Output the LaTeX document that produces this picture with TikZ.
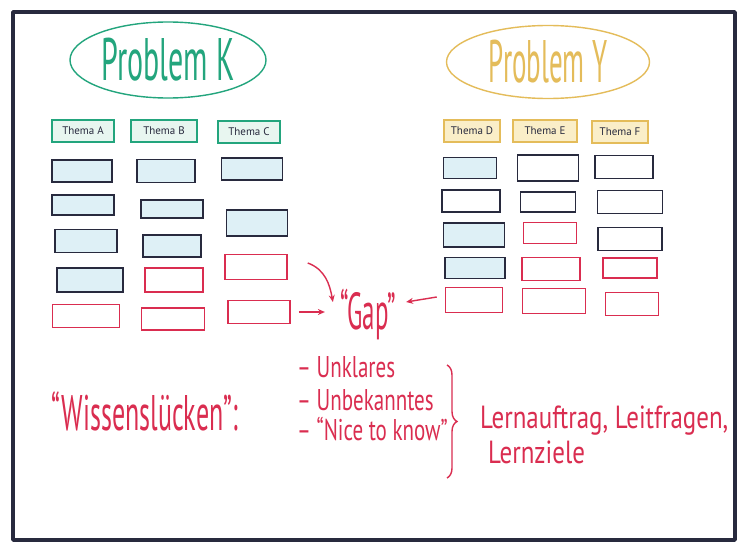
\documentclass[tikz,border=0pt]{standalone}
\usepackage{fontspec}
\setmainfont{PT Sans}
\usepackage{graphicx}
\usetikzlibrary{shapes.geometric,arrows.meta,decorations.pathreplacing}

\definecolor{kgreen}{RGB}{35,165,125}
\definecolor{ygold}{RGB}{228,188,90}
\definecolor{yfill}{RGB}{250,238,200}
\definecolor{kfill}{RGB}{232,246,240}
\definecolor{ink}{RGB}{40,42,62}
\definecolor{skyfill}{RGB}{222,240,246}
\definecolor{gapred}{RGB}{218,45,80}

\newcommand{\narrow}[2]{\scalebox{#1}[1]{#2}}

\tikzset{
  problem/.style={ellipse, draw, line width=1.4pt, inner sep=0pt},
  thema/.style={draw, line width=1.2pt, minimum height=22pt, inner sep=0pt,
    text=ink, font=\fontsize{11}{11}\selectfont},
  kthema/.style={thema, draw=kgreen, fill=kfill},
  ythema/.style={thema, draw=ygold, fill=yfill},
  card/.style={draw, line width=1.5pt, minimum height=22pt, inner sep=0pt},
  known/.style={card, draw=ink, fill=skyfill},
  knownw/.style={card, draw=ink, fill=white},
  open/.style={card, draw=gapred, fill=white},
  redtext/.style={text=gapred, inner sep=0pt},
  gaparrow/.style={-{Stealth[length=7pt,width=6pt]}, line width=1.4pt, gapred},
}

\begin{document}
\begin{tikzpicture}[x=1pt, y=-1pt]

  \useasboundingbox (0,0) rectangle (739,543);
  \fill[white] (0,0) rectangle (739,543);

  % whiteboard frame
  \draw[ink, line width=3.5pt, line join=round] (13,12) rectangle (735,540);

  % problems
  \node[problem, draw=kgreen, text=kgreen, minimum width=196pt, minimum height=76pt,
    font=\fontsize{60}{60}\selectfont] (probK) at (168,60) {\narrow{0.5}{Problem K}};
  \node[problem, draw=ygold, text=ygold, minimum width=203pt, minimum height=73pt,
    font=\fontsize{60}{60}\selectfont] (probY) at (548,62) {\narrow{0.45}{Problem Y}};

  % themes
  \node[kthema, minimum width=62pt] (thA) at (83,131) {Thema A};
  \node[kthema, minimum width=66pt] (thB) at (164,131) {Thema B};
  \node[kthema, minimum width=62pt] (thC) at (249,132) {Thema C};
  \node[ythema, minimum width=56pt] (thD) at (472,131) {Thema D};
  \node[ythema, minimum width=64pt] (thE) at (545,131) {Thema E};
  \node[ythema, minimum width=56pt] (thF) at (620,132) {Thema F};

  % cards, problem K
  \node[known, minimum width=60pt] (a1) at (82,171) {};
  \node[known, minimum width=62pt, minimum height=20pt] (a2) at (83,205) {};
  \node[known, minimum width=62pt, minimum height=23pt] (a3) at (86,241) {};
  \node[known, minimum width=66pt, minimum height=24pt] (a4) at (90,280) {};
  \node[open, minimum width=67pt, minimum height=23pt] (a5) at (86,316) {};
  \node[known, minimum width=58pt, minimum height=23pt] (b1) at (166,171) {};
  \node[known, minimum width=62pt, minimum height=18pt] (b2) at (172,209) {};
  \node[known, minimum width=58pt] (b3) at (172,246) {};
  \node[open, minimum width=58pt, minimum height=24pt] (b4) at (174,280) {};
  \node[open, minimum width=63pt] (b5) at (173,319) {};
  \node[known, minimum width=61pt] (c1) at (252,169) {};
  \node[known, minimum width=61pt, minimum height=26pt] (c2) at (257,223) {};
  \node[open, minimum width=62pt, minimum height=25pt] (c3) at (256,267) {};
  \node[open, minimum width=62pt, minimum height=23pt] (c4) at (259,312) {};

  % cards, problem Y
  \node[known, minimum width=53pt, minimum height=21pt] (d1) at (470,168) {};
  \node[knownw, minimum width=58pt] (d2) at (471,201) {};
  \node[known, minimum width=61pt, minimum height=24pt] (d3) at (474,235) {};
  \node[known, minimum width=60pt, minimum height=21pt] (d4) at (475,268) {};
  \node[open, minimum width=57pt, minimum height=25pt] (d5) at (474,300) {};
  \node[knownw, minimum width=61pt, minimum height=26pt] (e1) at (548,168) {};
  \node[knownw, minimum width=55pt, minimum height=20pt] (e2) at (548,202) {};
  \node[open, minimum width=53pt, minimum height=21pt] (e3) at (550,233) {};
  \node[open, minimum width=58pt, minimum height=23pt] (e4) at (551,269) {};
  \node[open, minimum width=63pt, minimum height=25pt] (e5) at (554,301) {};
  \node[knownw, minimum width=58pt, minimum height=23pt] (f1) at (624,167) {};
  \node[knownw, minimum width=65pt, minimum height=23pt] (f2) at (630,202) {};
  \node[knownw, minimum width=64pt, minimum height=23pt] (f3) at (630,239) {};
  \node[open, minimum width=54pt, minimum height=20pt] (f4) at (630,268) {};
  \node[open, minimum width=53pt, minimum height=23pt] (f5) at (632,304) {};

  % gap
  \node[redtext, inner sep=7pt, font=\fontsize{52}{52}\selectfont] (gap) at (368,314)
    {\narrow{0.48}{``Gap''}};

  % arrows
  \draw[gaparrow] ([xshift=20pt,yshift=4pt]c3.east) to[out=-20,in=100] ([yshift=12pt]gap.west);
  \draw[gaparrow] ([xshift=8pt]c4.east) -- ([xshift=-8pt,yshift=2pt]gap.west);
  \draw[gaparrow] ([xshift=-8pt,yshift=3pt]d5.west) -- ([xshift=3pt,yshift=12pt]gap.east);

  % knowledge gaps
  \node[redtext, font=\fontsize{50}{50}\selectfont] (wiss) at (145,411)
    {\narrow{0.52}{``Wissenslücken'':}};
  \node[redtext, anchor=west, font=\fontsize{30}{30}\selectfont] (unkl) at (297,367)
    {\narrow{0.7}{-- Unklares}};
  \node[redtext, anchor=west, font=\fontsize{30}{30}\selectfont] (unbek) at (297,400)
    {\narrow{0.7}{-- Unbekanntes}};
  \node[redtext, anchor=west, font=\fontsize{30}{30}\selectfont] (nice) at (297,429)
    {\narrow{0.7}{-- ``Nice to know''}};

  \coordinate (braceTop) at (447,365);
  \coordinate (braceBot) at (447,478);
  \draw[gapred, line width=1.4pt, decorate, decoration={brace, amplitude=10pt}]
    (braceTop) -- (braceBot);

  \node[redtext, anchor=west, font=\fontsize{32}{32}\selectfont] (lern) at (480,421)
    {\narrow{0.78}{Lernauftrag, Leitfragen,}};
  \node[redtext, anchor=west, font=\fontsize{32}{32}\selectfont] (ziele) at (488,452)
    {\narrow{0.78}{Lernziele}};

\end{tikzpicture}
\end{document}
